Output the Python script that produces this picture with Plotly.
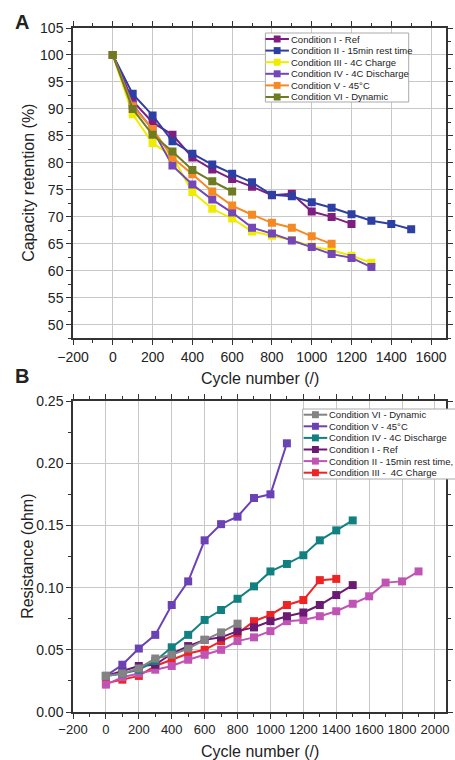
import plotly.graph_objects as go

# ---------------- Data: Panel A (capacity retention, %) ----------------
a_names = ["Condition I - Ref", "Condition II - 15min rest time", "Condition III - 4C Charge",
           "Condition IV - 4C Discharge", "Condition V - 45°C", "Condition VI - Dynamic"]
a_colors = ["#7D1E80", "#2E3FA3", "#F0EC00", "#7446B8", "#F58A25", "#6E7B22"]

a_x1 = [0, 100, 200, 300, 400, 500, 600, 700, 800, 900, 1000, 1100, 1200]
a_y1 = [100, 91.5, 87.5, 85.2, 81.0, 78.8, 77.0, 75.6, 74.0, 74.3, 71.0, 70.0, 68.7]
a_x2 = [0, 100, 200, 300, 400, 500, 600, 700, 800, 900, 1000, 1100, 1200, 1300, 1400, 1500]
a_y2 = [100, 92.8, 88.8, 84.0, 81.7, 79.7, 78.0, 76.4, 74.1, 73.8, 72.7, 71.7, 70.5, 69.3, 68.7, 67.7]
a_x3 = [0, 100, 200, 300, 400, 500, 600, 700, 800, 900, 1000, 1100, 1200, 1300]
a_y3 = [100, 89.0, 83.7, 81.2, 74.6, 71.5, 69.7, 67.3, 66.5, 65.7, 64.5, 63.8, 62.8, 61.5]
a_x4 = [0, 100, 200, 300, 400, 500, 600, 700, 800, 900, 1000, 1100, 1200, 1300]
a_y4 = [100, 90.8, 86.2, 79.5, 76.0, 73.2, 70.8, 68.0, 66.9, 65.6, 64.4, 63.1, 62.4, 60.7]
a_x5 = [0, 100, 200, 300, 400, 500, 600, 700, 800, 900, 1000, 1100]
a_y5 = [100, 90.5, 86.3, 81.0, 77.9, 74.7, 72.1, 70.4, 68.9, 68.0, 66.4, 65.0]
a_x6 = [0, 100, 200, 300, 400, 500, 600]
a_y6 = [100, 90.0, 85.2, 82.1, 78.7, 76.6, 74.7]

a_xs = [a_x1, a_x2, a_x3, a_x4, a_x5, a_x6]
a_ys = [a_y1, a_y2, a_y3, a_y4, a_y5, a_y6]

# ---------------- Data: Panel B (resistance, ohm) ----------------
b_names = ["Condition VI - Dynamic", "Condition V - 45°C", "Condition IV - 4C Discharge",
           "Condition I - Ref", "Condition II - 15min rest time,", "Condition III -  4C Charge"]
b_colors = ["#838383", "#6A42B5", "#128080", "#6A1A72", "#C054B4", "#EE2424"]

b_x6 = [0, 100, 200, 300, 400, 500, 600, 700, 800]
b_y6 = [0.029, 0.031, 0.035, 0.043, 0.046, 0.051, 0.058, 0.064, 0.071]
b_x5 = [0, 100, 200, 300, 400, 500, 600, 700, 800, 900, 1000, 1100]
b_y5 = [0.029, 0.038, 0.051, 0.062, 0.086, 0.105, 0.138, 0.151, 0.157, 0.172, 0.175, 0.216]
b_x4 = [0, 100, 200, 300, 400, 500, 600, 700, 800, 900, 1000, 1100, 1200, 1300, 1400, 1500]
b_y4 = [0.029, 0.031, 0.034, 0.041, 0.052, 0.062, 0.074, 0.082, 0.091, 0.101, 0.113, 0.119, 0.126, 0.138, 0.146, 0.154]
b_x1 = [0, 100, 200, 300, 400, 500, 600, 700, 800, 900, 1000, 1100, 1200, 1300, 1400, 1500]
b_y1 = [0.029, 0.033, 0.037, 0.038, 0.047, 0.053, 0.058, 0.060, 0.065, 0.068, 0.073, 0.077, 0.080, 0.086, 0.094, 0.102]
b_x2 = [0, 100, 200, 300, 400, 500, 600, 700, 800, 900, 1000, 1100, 1200, 1300, 1400, 1500, 1600, 1700, 1800, 1900]
b_y2 = [0.022, 0.028, 0.031, 0.034, 0.037, 0.042, 0.046, 0.050, 0.057, 0.060, 0.065, 0.073, 0.074, 0.077, 0.081, 0.087, 0.093, 0.104, 0.105, 0.113]
b_x3 = [0, 100, 200, 300, 400, 500, 600, 700, 800, 900, 1000, 1100, 1200, 1300, 1400]
b_y3 = [0.023, 0.026, 0.029, 0.037, 0.042, 0.047, 0.050, 0.057, 0.063, 0.073, 0.078, 0.086, 0.090, 0.106, 0.107]

b_xs = [b_x6, b_x5, b_x4, b_x1, b_x2, b_x3]
b_ys = [b_y6, b_y5, b_y4, b_y1, b_y2, b_y3]

# ---------------- Layout helpers ----------------
W, H = 455, 760
ML, MR, MT, MB = 73, 2, 28, 48
PW, PH = W - ML - MR, H - MT - MB


def px(x):
    return (x - ML) / PW


def py(y):
    return (H - MB - y) / PH


FONT = "Liberation Sans, Arial, sans-serif"
fig = go.Figure()

for xs, ys, n, c in zip(a_xs, a_ys, a_names, a_colors):
    fig.add_trace(go.Scatter(x=xs, y=ys, name=n, mode="lines+markers",
                             line=dict(color=c, width=2),
                             marker=dict(symbol="square", size=8, color=c),
                             xaxis="x", yaxis="y", showlegend=False))

for i in reversed(range(len(b_xs))):
    fig.add_trace(go.Scatter(x=b_xs[i], y=b_ys[i], name=b_names[i], mode="lines+markers",
                             line=dict(color=b_colors[i], width=2),
                             marker=dict(symbol="square", size=8, color=b_colors[i]),
                             xaxis="x2", yaxis="y2", showlegend=False))

axis_common = dict(showline=True, linecolor="#333333", linewidth=1.5, mirror="ticks",
                   ticks="outside", ticklen=5, tickcolor="#333333", tickwidth=1.2,
                   showgrid=True, gridcolor="#c8c8c8", gridwidth=1, zeroline=False,
                   tickangle=0,
                   tickfont=dict(family=FONT, size=14, color="#222222"))

shapes = []
annotations = []


def legend(names, colors, box, x_line, x_text, y0, dy):
    bx0, by0, bx1, by1 = box
    shapes.append(dict(type="rect", xref="paper", yref="paper",
                       x0=px(bx0), x1=px(bx1), y0=py(by1), y1=py(by0),
                       fillcolor="white", line=dict(color="#aaaaaa", width=1)))
    for k, (n, c) in enumerate(zip(names, colors)):
        yy = y0 + k * dy
        shapes.append(dict(type="line", xref="paper", yref="paper",
                           x0=px(x_line[0]), x1=px(x_line[1]), y0=py(yy), y1=py(yy),
                           line=dict(color=c, width=2)))
        xm = (x_line[0] + x_line[1]) / 2
        shapes.append(dict(type="rect", xref="paper", yref="paper",
                           x0=px(xm - 3.5), x1=px(xm + 3.5), y0=py(yy + 3.5), y1=py(yy - 3.5),
                           fillcolor=c, line=dict(width=0)))
        annotations.append(dict(text=n, xref="paper", yref="paper", x=px(x_text), y=py(yy),
                                xanchor="left", yanchor="middle", showarrow=False,
                                font=dict(family=FONT, size=9.5, color="#222222")))


legend(a_names, a_colors, (269, 33, 415, 102), (269, 293), 293, 39, 11.6)
legend(b_names, b_colors, (307, 409, 470, 479), (308, 332), 332, 414.7, 11.6)


def label(text, x, y, size, angle=0):
    annotations.append(dict(text=text, xref="paper", yref="paper", x=px(x), y=py(y),
                            xanchor="center", yanchor="middle", showarrow=False,
                            textangle=angle, font=dict(family=FONT, size=size, color="#222222")))


label("<b>A</b>", 21, 22, 20)
label("<b>B</b>", 21, 376, 20)
label("Cycle number (/)", 264, 379, 16)
label("Cycle number (/)", 264, 752, 16)
label("Capacity retention (%)", 27, 183, 16, -90)
label("Resistance (ohm)", 26, 556, 16, -90)

fig.update_layout(
    width=W, height=H, margin=dict(l=ML, r=MR, t=MT, b=MB),
    paper_bgcolor="white", plot_bgcolor="white",
    xaxis=dict(axis_common, range=[-200, 1675], dtick=200, tick0=0, anchor="y",
               minor=dict(dtick=100, ticks="outside", ticklen=3, tickcolor="#333333", showgrid=False)),
    yaxis=dict(axis_common, range=[47.5, 105], dtick=5, tick0=0, domain=[py(338.3), 1], anchor="x",
               minor=dict(dtick=2.5, ticks="outside", ticklen=3, tickcolor="#333333", showgrid=False)),
    xaxis2=dict(axis_common, range=[-200, 2067], dtick=200, tick0=0, anchor="y2",
                tickfont=dict(family=FONT, size=13, color="#222222"),
                minor=dict(dtick=100, ticks="outside", ticklen=3, tickcolor="#333333", showgrid=False)),
    yaxis2=dict(axis_common, range=[0, 0.25], dtick=0.05, tick0=0, tickformat=".2f",
                domain=[0, py(401)], anchor="x2",
                minor=dict(dtick=0.025, ticks="outside", ticklen=3, tickcolor="#333333", showgrid=False)),
    shapes=shapes, annotations=annotations,
)

fig.write_html("out.html")
